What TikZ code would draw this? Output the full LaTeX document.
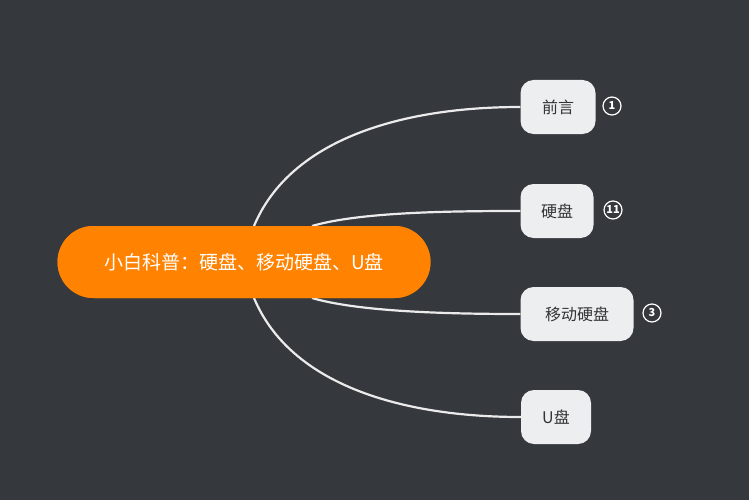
\documentclass[tikz,border=0pt]{standalone}
\usepackage{fontspec}
\setmainfont{Noto Sans CJK SC}
\definecolor{bg}{HTML}{35383C}
\definecolor{org}{HTML}{FF8200}
\definecolor{leaf}{HTML}{ECEEF0}
\definecolor{txt}{HTML}{333333}
\begin{document}
\begin{tikzpicture}[x=1pt,y=-1pt,
  leafbox/.style={fill=leaf,rounded corners=13pt,minimum height=54pt,inner xsep=14pt,text=txt,font=\fontsize{16}{18}\selectfont},
  badge/.style={circle,draw=white,line width=1.2pt,inner sep=0pt,minimum size=18pt,text=white,font=\fontsize{11}{12}\selectfont\bfseries},
  conn/.style={draw=white!92!black,line width=2.2pt}]
\fill[bg] (0,0) rectangle (749,500);
\useasboundingbox (0,0) rectangle (749,500);
\node[fill=org,rounded corners=36pt,minimum width=373pt,minimum height=72pt,text=white,font=\fontsize{19}{22}\selectfont] (root) at (244,262) {小白科普：硬盘、移动硬盘、U盘};
\node[leafbox,minimum width=75pt] (a) at (558,107) {前言};
\node[leafbox,minimum width=73pt] (b) at (557,211) {硬盘};
\node[leafbox,minimum width=113pt] (c) at (577,314) {移动硬盘};
\node[leafbox,minimum width=70pt] (d) at (556,417) {U盘};
\node[badge] (ba) at (612,106) {1};
\node[badge] (bb) at (613,210) {11};
\node[badge] (bc) at (652,313) {3};
\coordinate (s1) at (254,226);
\coordinate (s2) at (312,226);
\coordinate (s3) at (312,298);
\coordinate (s4) at (254,298);
\begin{scope}[on background layer/.style={}]
\draw[conn] (s1) .. controls (290,140) and (400,107) .. (a.west);
\draw[conn] (s2) .. controls (360,212) and (450,211) .. (b.west);
\draw[conn] (s3) .. controls (360,312) and (450,314) .. (c.west);
\draw[conn] (s4) .. controls (290,384) and (400,417) .. (d.west);
\end{scope}
\node[fill=org,rounded corners=36pt,minimum width=373pt,minimum height=72pt,text=white,font=\fontsize{19}{22}\selectfont] at (244,262) {小白科普：硬盘、移动硬盘、U盘};
\end{tikzpicture}
\end{document}
